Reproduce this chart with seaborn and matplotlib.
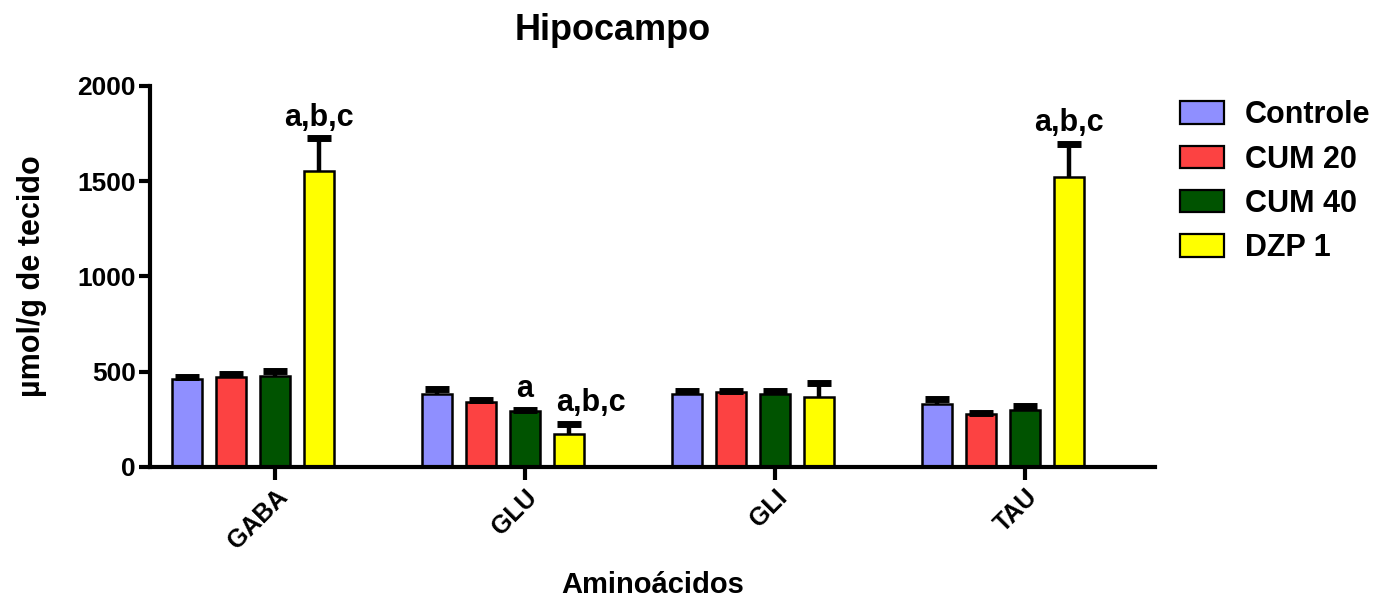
import numpy as np
import pandas as pd
import seaborn as sns
import matplotlib
matplotlib.use("Agg")
import matplotlib.pyplot as plt
from matplotlib.patches import Patch

# Amino acid levels in hippocampus (mean and SEM)
aminoacids = ["GABA", "GLU", "GLI", "TAU"]
groups = ["Controle", "CUM 20", "CUM 40", "DZP 1"]

controle_mean = [460, 383, 385, 330]
cum20_mean = [470, 340, 392, 280]
cum40_mean = [480, 295, 385, 300]
dzp1_mean = [1555, 175, 368, 1522]

controle_sem = [10, 27, 14, 25]
cum20_sem = [20, 12, 8, 4]
cum40_sem = [25, 5, 15, 20]
dzp1_sem = [170, 50, 75, 172]

# Significance letters: (aminoacid, group, text)
significance = [
    ("GABA", "DZP 1", "a,b,c"),
    ("GLU", "CUM 40", "a"),
    ("GLU", "DZP 1", "a,b,c"),
    ("TAU", "DZP 1", "a,b,c"),
]
# horizontal nudge (points) so neighbouring letters do not collide
letter_nudge = {("GLU", "DZP 1"): 16}

colors = ["#8F8FFF", "#FC4242", "#005300", "#FFFF00"]

means = [controle_mean, cum20_mean, cum40_mean, dzp1_mean]
sems = [controle_sem, cum20_sem, cum40_sem, dzp1_sem]

rows = []
for g, m_list, s_list in zip(groups, means, sems):
    for aa, m, s in zip(aminoacids, m_list, s_list):
        rows.append({"Aminoácidos": aa, "Grupo": g, "valor": m, "sem": s})
df = pd.DataFrame(rows)

sns.set_style("ticks")
plt.rcParams["font.family"] = ["Liberation Sans", "DejaVu Sans"]
plt.rcParams["font.weight"] = "bold"
for key in ["text.color", "axes.labelcolor", "xtick.color", "ytick.color",
            "axes.edgecolor"]:
    plt.rcParams[key] = "black"

fig = plt.figure(figsize=(13.89, 5.97), dpi=100)
ax = fig.add_axes([0.108, 0.2178, 0.7235, 0.6382])

sns.barplot(
    data=df, x="Aminoácidos", y="valor", hue="Grupo",
    order=aminoacids, hue_order=groups, palette=colors,
    errorbar=None, width=0.704, gap=0.32, dodge=True,
    edgecolor="black", linewidth=1.8, saturation=1, legend=False, ax=ax,
)

# Upper-only SEM bars and significance letters
for container, g in zip(ax.containers, groups):
    sub = df[df["Grupo"] == g].set_index("Aminoácidos").loc[aminoacids]
    for bar, aa in zip(container, aminoacids):
        xc = bar.get_x() + bar.get_width() / 2
        m = sub.loc[aa, "valor"]
        s = sub.loc[aa, "sem"]
        ax.vlines(xc, m, m + s, color="black", linewidth=3.2, zorder=3)
        ax.plot([xc], [m + s], marker="_", markersize=17,
                markeredgewidth=5, color="black", zorder=3)
        for saa, sg, txt in significance:
            if saa == aa and sg == g:
                dx = letter_nudge.get((aa, g), 0)
                ax.annotate(txt, (xc, m + s), xytext=(dx, 15),
                            textcoords="offset points", ha="center",
                            va="center", fontsize=22, fontweight="bold")

# Group ticks sit under the third bar of each cluster
shift = 0.704 / 8
ax.set_xticks([i + shift for i in range(len(aminoacids))])
ax.set_xticklabels(aminoacids, rotation=45, ha="right",
                   rotation_mode="anchor", fontsize=18, fontweight="bold")
ax.set_xlim(-0.5 + shift, 3.52 + shift)
ax.set_ylim(0, 2000)
ax.set_yticks([0, 500, 1000, 1500, 2000])
ax.tick_params(axis="y", labelsize=19, width=3, length=8, pad=2)
ax.tick_params(axis="x", width=3, length=9, pad=4)
for lbl in ax.get_yticklabels():
    lbl.set_fontweight("bold")

sns.despine(ax=ax)
for sp in ["left", "bottom"]:
    ax.spines[sp].set_linewidth(3)

ax.set_xlabel("Aminoácidos", fontsize=21, fontweight="bold", labelpad=12)
ax.set_ylabel("µmol/g de tecido", fontsize=22, fontweight="bold", labelpad=22)
ax.set_title("Hipocampo", fontsize=26, fontweight="bold", pad=33, x=0.46)

handles = [Patch(facecolor=c, edgecolor="black", linewidth=1.6) for c in colors]
fig.legend(handles, groups, loc="upper left", bbox_to_anchor=(0.834, 0.868),
           frameon=False, prop={"size": 22, "weight": "bold"},
           handlelength=1.45, handleheight=0.75, handletextpad=0.68,
           labelspacing=0.47, borderpad=0.2)

fig.savefig("out.png", dpi=100)
